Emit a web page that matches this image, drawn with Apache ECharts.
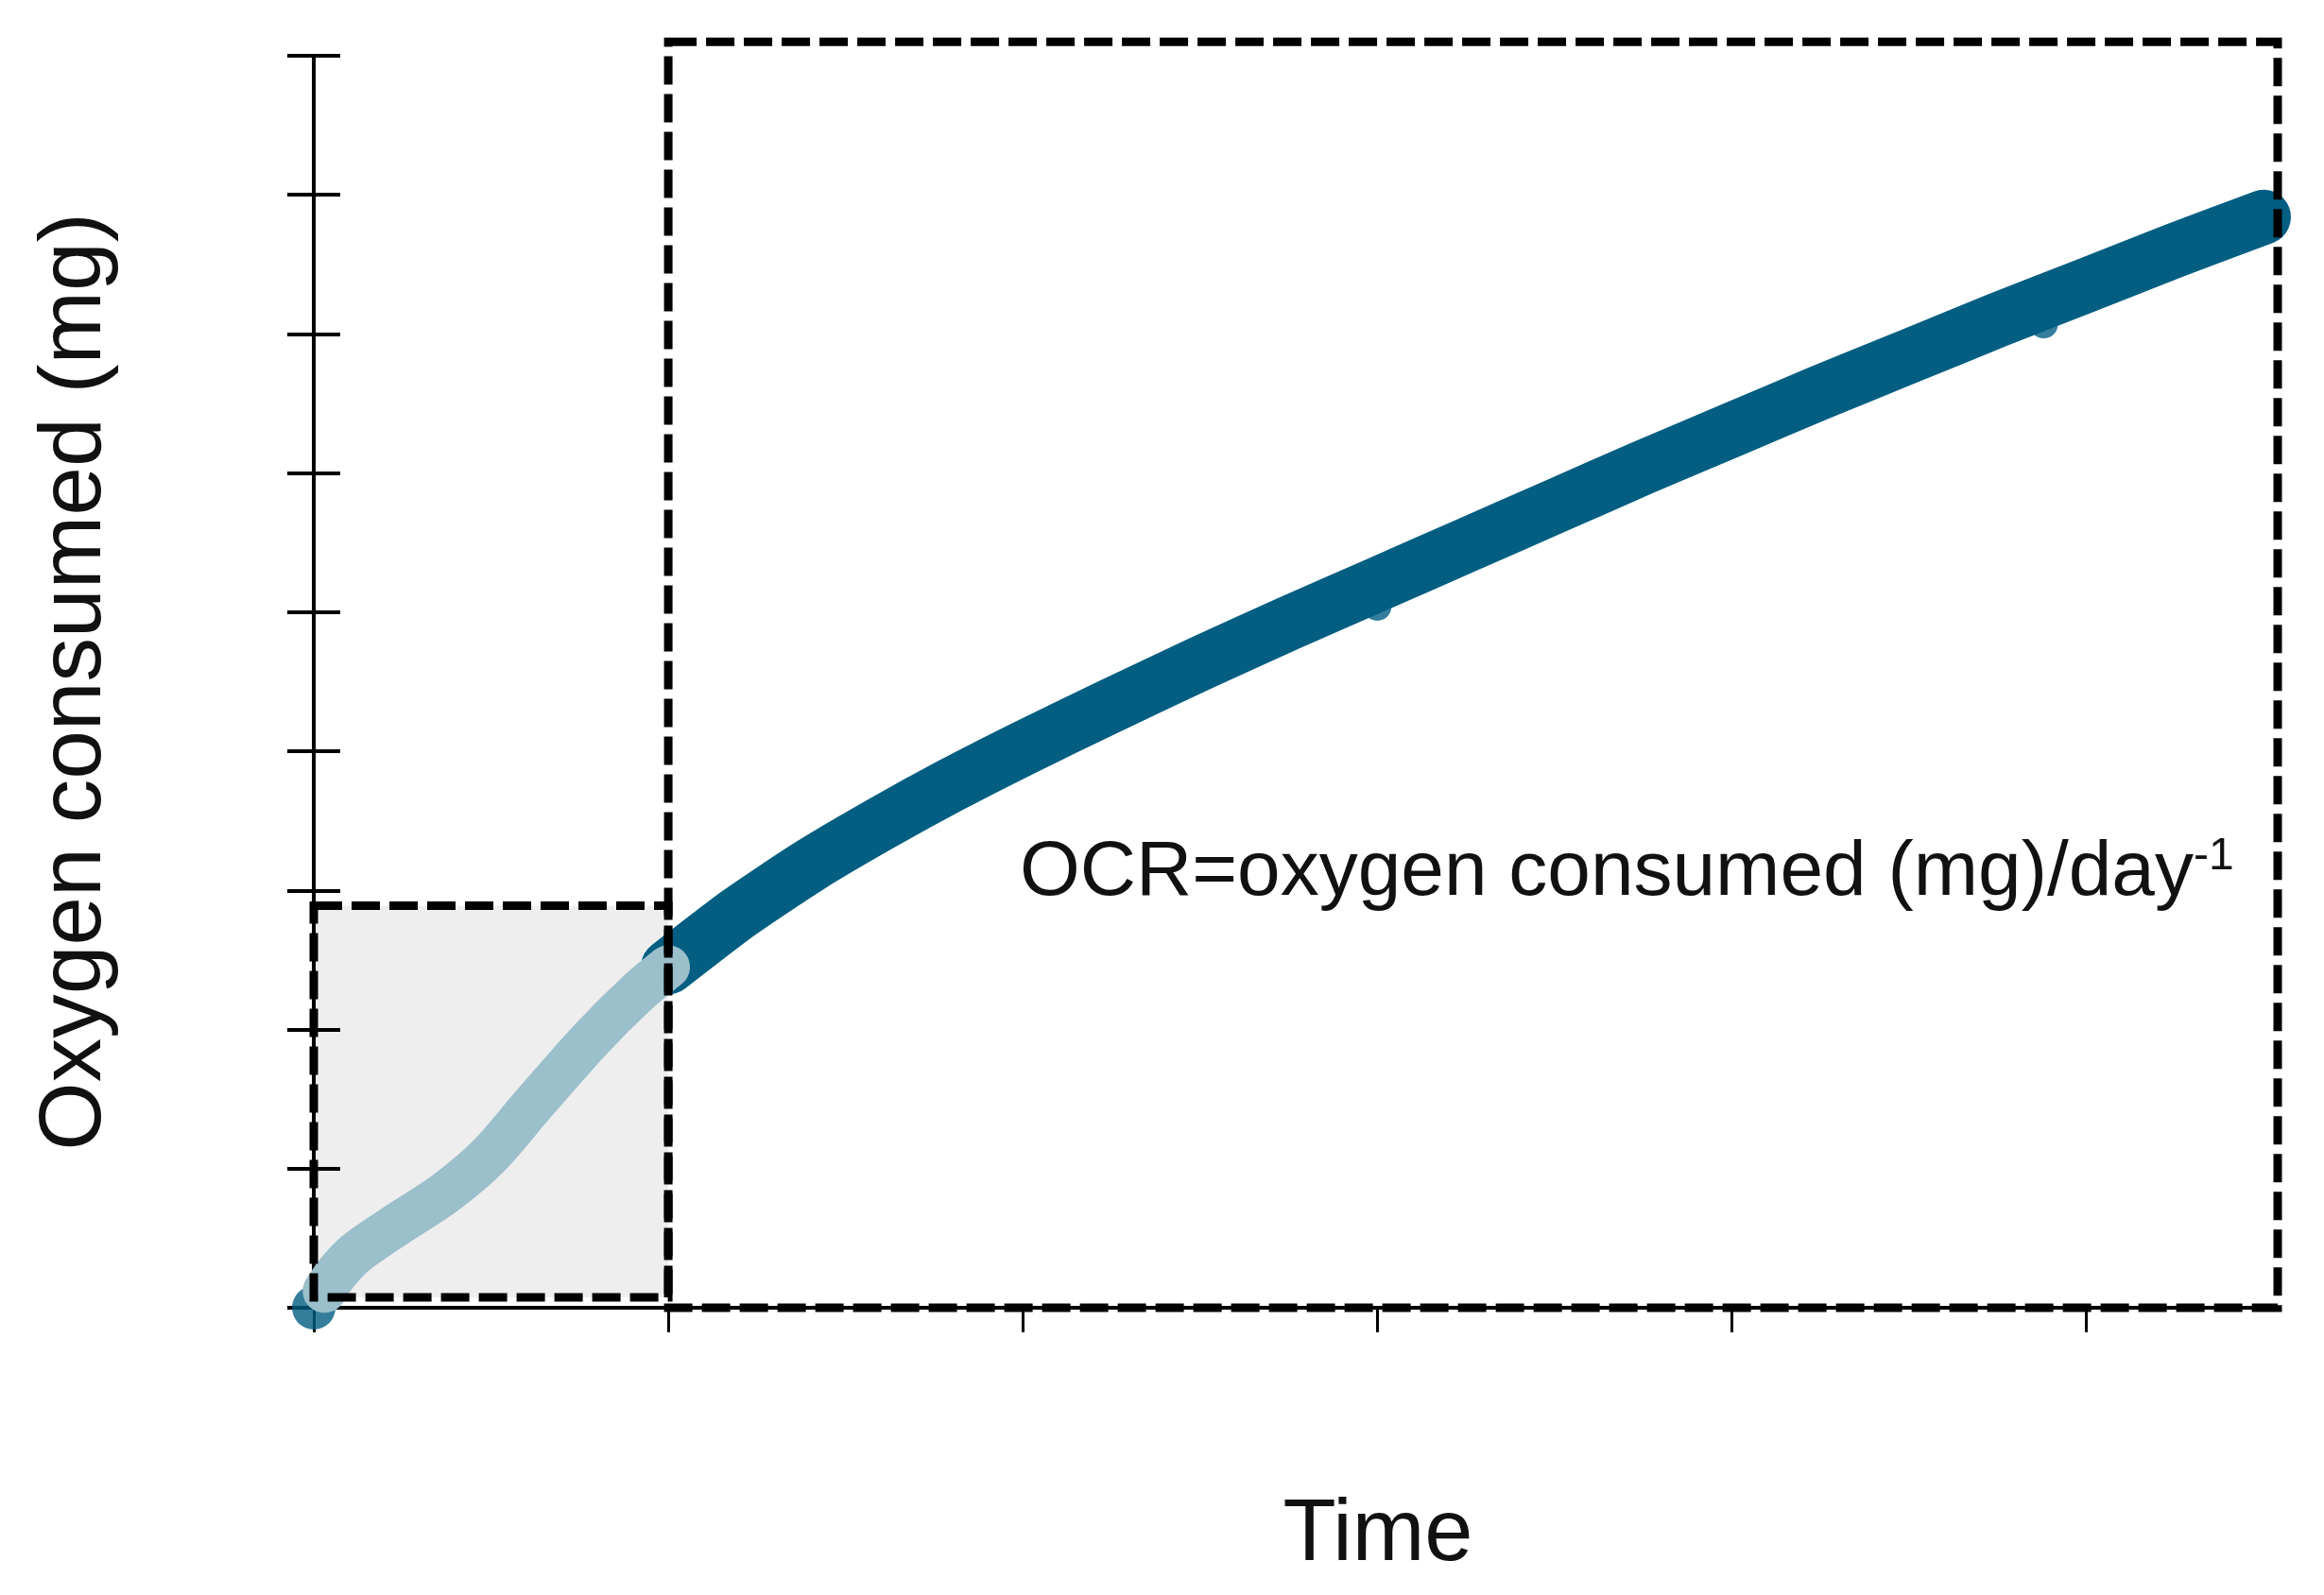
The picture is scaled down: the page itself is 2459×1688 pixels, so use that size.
<!DOCTYPE html>
<html>
<head>
<meta charset="utf-8">
<script src="https://cdn.jsdelivr.net/npm/echarts@6/dist/echarts.min.js"></script>
<style>
  html, body { margin: 0; padding: 0; background: #ffffff; }
  #chart { width: 2459px; height: 1688px; }
</style>
</head>
<body>
<div id="chart"></div>
<script>
// ---- data ----
const lightTime = [0.03, 0.065, 0.117, 0.221, 0.368, 0.493, 0.618, 0.785, 0.911, 1.0];
const lightO2   = [0.12, 0.25, 0.39, 0.575, 0.82, 1.09, 1.46, 1.94, 2.26, 2.45];

const darkTime = [1.0, 1.2, 1.4, 1.6, 1.8, 2.0, 2.25, 2.5, 2.75, 3.0, 3.25, 3.5, 3.75, 4.0, 4.25, 4.5, 4.75, 5.0, 5.25, 5.5];
const darkO2   = [2.45, 2.84, 3.18, 3.48, 3.76, 4.02, 4.33, 4.63, 4.92, 5.20, 5.48, 5.76, 6.04, 6.31, 6.58, 6.84, 7.10, 7.35, 7.60, 7.84];

// isolated readings that stick out just below the curve
const outlierTime = [3.0, 4.88];
const outlierO2   = [5.04, 7.07];

const startPoint = [0, 0];
const timeTicks = [0, 1, 2, 3, 4, 5];
const timeMax = 5.54;
const o2Max = 9;

// boxes: [xStart, yStart, xEnd, yEnd] in data units
const baselineBox = [0, 0.075, 1, 2.89];
const ocrBox = [1, 0, 5.54, 9.1];

const xTitle = 'Time';
const yTitle = 'Oxygen consumed (mg)';
const noteText = 'OCR=oxygen consumed (mg)/day';
const noteSup = '-1';

// ---- chart ----
const DARK = '#035e82';
const LIGHT = '#9bbfcb';
const FONT = '"Liberation Sans", Arial, Helvetica, sans-serif';

const zip = (a, b) => a.map((v, i) => [v, b[i]]);

function boxRenderer(fill, stroke) {
  return function (params, api) {
    const p0 = api.coord([api.value(0), api.value(3)]);
    const p1 = api.coord([api.value(2), api.value(1)]);
    return {
      type: 'rect',
      shape: { x: p0[0], y: p0[1], width: p1[0] - p0[0], height: p1[1] - p0[1] },
      style: fill
        ? { fill: fill, stroke: null }
        : { fill: null, stroke: stroke, lineWidth: 9, lineDash: [30, 10] }
    };
  };
}

const chart = echarts.init(document.getElementById('chart'), null, { renderer: 'canvas' });
chart.setOption({
  animation: false,
  backgroundColor: '#ffffff',
  grid: { left: 332, right: 49, top: 59, bottom: 304, containLabel: false },
  xAxis: {
    type: 'value',
    min: 0, max: timeMax, interval: 1,
    name: xTitle,
    nameLocation: 'middle',
    nameGap: 196,
    nameTextStyle: { fontSize: 92, fontFamily: FONT, color: '#111', padding: [0, 0, 0, 174] },
    axisLine: { show: true, onZero: false, lineStyle: { color: '#000', width: 4 } },
    axisTick: { show: true, customValues: timeTicks, length: 26, lineStyle: { color: '#000', width: 3 } },
    axisLabel: { show: false },
    splitLine: { show: false }
  },
  yAxis: [
    {
      type: 'value',
      position: 'left',
      min: 0, max: o2Max, interval: 1,
      name: yTitle,
      nameLocation: 'middle',
      nameGap: 205,
      nameTextStyle: { fontSize: 93, fontFamily: FONT, color: '#111' },
      axisLine: { show: true, onZero: false, lineStyle: { color: '#000', width: 4 } },
      axisTick: { show: true, length: 28, lineStyle: { color: '#000', width: 4 } },
      axisLabel: { show: false },
      splitLine: { show: false }
    },
    {
      type: 'value',
      position: 'left',
      min: 0, max: o2Max, interval: 1,
      axisLine: { show: true, onZero: false, lineStyle: { color: '#000', width: 4 } },
      axisTick: { show: true, inside: true, length: 28, lineStyle: { color: '#000', width: 4 } },
      axisLabel: { show: false },
      splitLine: { show: false }
    }
  ],
  series: [
    {
      type: 'custom',
      z: 1,
      clip: false,
      encode: { x: [0, 2], y: [1, 3] },
      renderItem: boxRenderer('rgba(0,0,0,0.065)', null),
      data: [baselineBox],
      silent: true
    },
    {
      type: 'line',
      z: 2,
      clip: false,
      showSymbol: false,
      symbol: 'none',
      smooth: 0.2,
      lineStyle: { color: DARK, width: 58, cap: 'round', join: 'round' },
      data: zip(darkTime, darkO2)
    },
    {
      type: 'scatter',
      z: 2,
      clip: false,
      symbolSize: 30,
      itemStyle: { color: DARK },
      data: zip(outlierTime, outlierO2)
    },
    {
      type: 'scatter',
      z: 2,
      clip: false,
      symbolSize: 46,
      itemStyle: { color: DARK },
      data: [startPoint]
    },
    {
      type: 'line',
      z: 3,
      clip: false,
      showSymbol: false,
      symbol: 'none',
      smooth: 0.3,
      lineStyle: { color: LIGHT, width: 46, cap: 'round', join: 'round' },
      data: zip(lightTime, lightO2)
    },
    {
      type: 'custom',
      z: 5,
      clip: false,
      encode: { x: [0, 2], y: [1, 3] },
      renderItem: boxRenderer(null, '#000'),
      data: [baselineBox, ocrBox],
      silent: true
    }
  ],
  graphic: [
    {
      type: 'text',
      x: 1079,
      y: 924,
      z: 10,
      style: {
        text: noteText + '{sup|' + noteSup + '}',
        fontSize: 82,
        fontFamily: FONT,
        fill: '#111',
        verticalAlign: 'middle',
        align: 'left',
        rich: {
          sup: { fontSize: 48, fontFamily: FONT, fill: '#111', verticalAlign: 'top' }
        }
      }
    }
  ]
});
</script>
</body>
</html>
